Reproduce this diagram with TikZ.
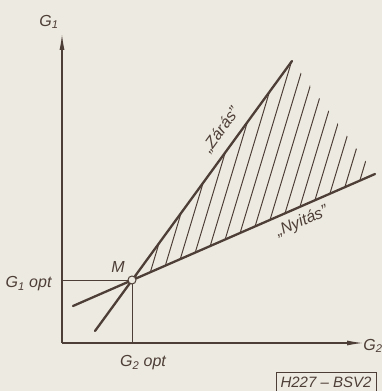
\documentclass[tikz,border=0pt]{standalone}
\usepackage{fontspec}
\setsansfont{Liberation Sans}
\usetikzlibrary{arrows.meta,calc}
\definecolor{ink}{RGB}{78,62,56}
\definecolor{paper}{RGB}{237,235,225}

\begin{document}
\begin{tikzpicture}[x=1pt,y=1pt,font=\fontsize{16}{18}\selectfont\sffamily\itshape,ink,>={Latex[length=16pt,width=5pt]},
  axis/.style={line width=1.1pt},
  curve/.style={line width=2.3pt,line cap=round},
  hatch/.style={line width=1pt},
  guide/.style={line width=0.9pt}]
  \fill[paper] (0,0) rectangle (382,391);
  \useasboundingbox (0,0) rectangle (382,391);
  \coordinate (O) at (62,48);
  \coordinate (g1end) at (62,357);
  \coordinate (g2end) at (363,48);
  \coordinate (M) at (132,111);
  \coordinate (za) at (95,60);
  \coordinate (zb) at (292,330);
  \coordinate (na) at (73,85);
  \coordinate (nb) at (375,217);
  % hatched region between the two lines
  \begin{scope}
    \clip (M) -- (zb) -- (nb) -- cycle;
    \foreach \c in {219,232,...,415}
      \draw[hatch] (\c-102.3,50) -- (\c-15.3,340);
  \end{scope}
  \draw[axis,->] (O) -- (g1end);
  \draw[axis,->] (O) -- (g2end);
  \draw[guide] (M) -- (O |- M);
  \draw[guide] (M) -- (M |- O);
  \draw[curve] (za) -- (zb);
  \draw[curve] (na) -- (nb);
  \node[circle,draw,fill=paper,line width=1pt,inner sep=0pt,minimum size=8pt] (m) at (M) {};
  \node (g1) at (49,369) {G\textsubscript{1}};
  \node (g2) at (373,45) {G\textsubscript{2}};
  \node (mlab) at (118,124) {M};
  \node[anchor=east] (g1opt) at (55,107) {G\textsubscript{1} opt};
  \node (g2opt) at (143,28) {G\textsubscript{2} opt};
  \node[rotate=54,inner sep=1pt] (zaras) at (221,261) {„Zárás”};
  \node[rotate=23.6,inner sep=1pt] (nyitas) at (302,169) {„Nyitás”};
  \node[draw,line width=0.8pt,inner sep=1pt,minimum width=100pt,minimum height=20pt,font=\fontsize{15}{16}\selectfont\sffamily\itshape] (code) at (326,9) {H227 -- BSV2};
\end{tikzpicture}
\end{document}
